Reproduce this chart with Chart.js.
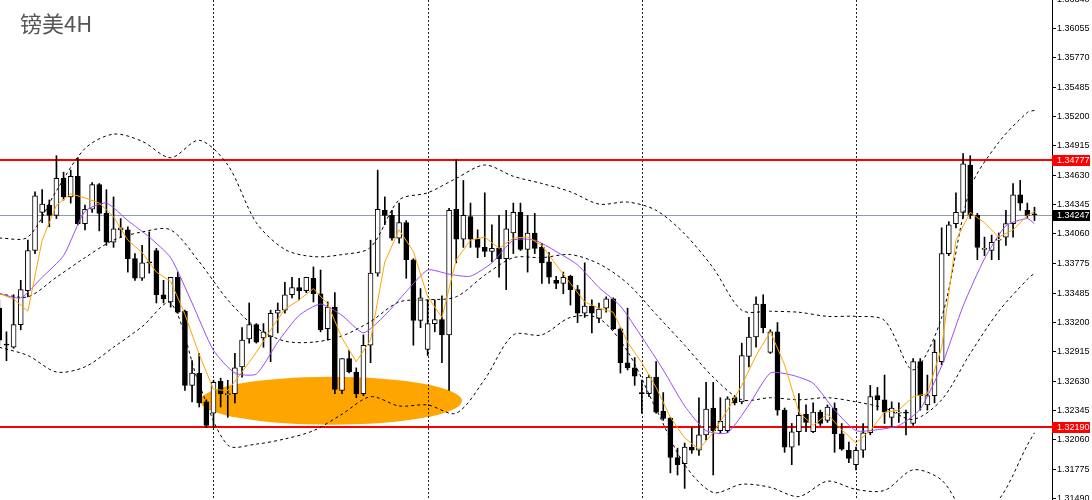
<!DOCTYPE html>
<html>
<head>
<meta charset="utf-8">
<script src="https://cdn.jsdelivr.net/npm/chart.js@4.4.0/dist/chart.umd.min.js"></script>
<style>
  html, body { margin: 0; padding: 0; background: #fff; overflow: hidden; }
  #wrap { position: relative; width: 1092px; height: 500px; }
  #title { position: absolute; left: 20px; top: 11px; font: 22px/22px "Noto Sans CJK SC", sans-serif; color: #555; }
</style>
</head>
<body>
<div id="wrap">
  <canvas id="chart" width="1092" height="500"></canvas>
  <div id="title">镑美4H</div>
</div>
<script>
// 4H candles, oldest (partly cut at the left edge) to newest
const candleOpen = [
  1.3334, 1.3299, 1.3296, 1.3318, 1.3351, 1.3390, 1.3427, 1.3434, 1.3424, 1.3460,
  1.3442, 1.3462, 1.3416, 1.3430, 1.3454, 1.3426, 1.3398, 1.3410, 1.3410, 1.3382,
  1.3363, 1.3379, 1.3390, 1.3347, 1.3340, 1.3364, 1.3331, 1.3259, 1.3271, 1.3243,
  1.3232, 1.3263, 1.3250, 1.3251, 1.3277, 1.3304, 1.3318, 1.3305, 1.3306, 1.3329,
  1.3332, 1.3347, 1.3354, 1.3351, 1.3363, 1.3348, 1.3314, 1.3335, 1.3254, 1.3285,
  1.3272, 1.3251, 1.3298, 1.3368, 1.3429, 1.3424, 1.3402, 1.3417, 1.3381, 1.3322,
  1.3294, 1.3319, 1.3323, 1.3308, 1.3430, 1.3401, 1.3423, 1.3401, 1.3393, 1.3389,
  1.3392, 1.3382, 1.3407, 1.3427, 1.3391, 1.3407, 1.3393, 1.3379, 1.3361, 1.3358,
  1.3365, 1.3352, 1.3329, 1.3336, 1.3324, 1.3334, 1.3343, 1.3314, 1.3281, 1.3276,
  1.3252, 1.3251, 1.3267, 1.3234, 1.3227, 1.3189, 1.3183, 1.3199, 1.3196, 1.3211,
  1.3237, 1.3215, 1.3215, 1.3247, 1.3243, 1.3287, 1.3306, 1.3338, 1.3291, 1.3311,
  1.3235, 1.3199, 1.3214, 1.3231, 1.3214, 1.3233, 1.3225, 1.3237, 1.3212, 1.3196,
  1.3182, 1.3196, 1.3213, 1.3249, 1.3245, 1.3228, 1.3232, 1.3233, 1.3222, 1.3282,
  1.3240, 1.3249, 1.3282, 1.3387, 1.3416, 1.3427, 1.3473, 1.3424, 1.3391, 1.3390,
  1.3400, 1.3403, 1.3416, 1.3444, 1.3429, 1.3425
];
const candleHigh = [
  1.3342, 1.3311, 1.3347, 1.3361, 1.3400, 1.3447, 1.3449, 1.3439, 1.3482, 1.3466,
  1.3468, 1.3480, 1.3434, 1.3456, 1.3455, 1.3449, 1.3442, 1.3421, 1.3413, 1.3387,
  1.3395, 1.3408, 1.3392, 1.3361, 1.3364, 1.3369, 1.3332, 1.3283, 1.3290, 1.3245,
  1.3264, 1.3266, 1.3264, 1.3290, 1.3315, 1.3339, 1.3319, 1.3319, 1.3332, 1.3339,
  1.3359, 1.3364, 1.3363, 1.3364, 1.3374, 1.3371, 1.3340, 1.3349, 1.3285, 1.3293,
  1.3276, 1.3308, 1.3400, 1.3468, 1.3442, 1.3429, 1.3436, 1.3419, 1.3382, 1.3353,
  1.3342, 1.3342, 1.3346, 1.3431, 1.3478, 1.3458, 1.3436, 1.3410, 1.3446, 1.3415,
  1.3424, 1.3429, 1.3436, 1.3436, 1.3424, 1.3426, 1.3397, 1.3388, 1.3365, 1.3369,
  1.3366, 1.3356, 1.3378, 1.3342, 1.3339, 1.3345, 1.3344, 1.3315, 1.3334, 1.3286,
  1.3264, 1.3269, 1.3282, 1.3252, 1.3228, 1.3198, 1.3203, 1.3218, 1.3247, 1.3262,
  1.3262, 1.3247, 1.3248, 1.3249, 1.3300, 1.3325, 1.3345, 1.3347, 1.3313, 1.3320,
  1.3237, 1.3222, 1.3251, 1.3240, 1.3242, 1.3235, 1.3240, 1.3242, 1.3222, 1.3204,
  1.3199, 1.3222, 1.3259, 1.3257, 1.3269, 1.3243, 1.3242, 1.3235, 1.3285, 1.3285,
  1.3269, 1.3303, 1.3412, 1.3418, 1.3446, 1.3484, 1.3482, 1.3426, 1.3403, 1.3405,
  1.3407, 1.3429, 1.3455, 1.3458, 1.3436, 1.3432
];
const candleLow = [
  1.3298, 1.3283, 1.3295, 1.3313, 1.3345, 1.3387, 1.3417, 1.3413, 1.3421, 1.3439,
  1.3436, 1.3415, 1.3410, 1.3427, 1.3409, 1.3395, 1.3393, 1.3403, 1.3369, 1.3361,
  1.3361, 1.3368, 1.3339, 1.3339, 1.3335, 1.3329, 1.3254, 1.3243, 1.3238, 1.3218,
  1.3218, 1.3238, 1.3228, 1.3242, 1.3267, 1.3300, 1.3300, 1.3296, 1.3282, 1.3310,
  1.3329, 1.3344, 1.3342, 1.3349, 1.3340, 1.3311, 1.3303, 1.3251, 1.3251, 1.3271,
  1.3247, 1.3249, 1.3281, 1.3365, 1.3415, 1.3400, 1.3397, 1.3363, 1.3298, 1.3315,
  1.3288, 1.3311, 1.3281, 1.3254, 1.3378, 1.3393, 1.3393, 1.3383, 1.3384, 1.3379,
  1.3364, 1.3352, 1.3387, 1.3390, 1.3369, 1.3387, 1.3358, 1.3358, 1.3353, 1.3348,
  1.3337, 1.3320, 1.3325, 1.3310, 1.3320, 1.3330, 1.3313, 1.3271, 1.3274, 1.3259,
  1.3232, 1.3248, 1.3232, 1.3225, 1.3174, 1.3172, 1.3159, 1.3193, 1.3191, 1.3206,
  1.3172, 1.3213, 1.3213, 1.3240, 1.3241, 1.3277, 1.3296, 1.3310, 1.3290, 1.3230,
  1.3194, 1.3182, 1.3201, 1.3214, 1.3213, 1.3220, 1.3223, 1.3194, 1.3196, 1.3184,
  1.3177, 1.3189, 1.3211, 1.3235, 1.3222, 1.3218, 1.3223, 1.3211, 1.3220, 1.3235,
  1.3235, 1.3242, 1.3279, 1.3385, 1.3412, 1.3421, 1.3421, 1.3381, 1.3385, 1.3381,
  1.3381, 1.3395, 1.3403, 1.3429, 1.3422, 1.3419
];
const candleClose = [
  1.3303, 1.3298, 1.3318, 1.3352, 1.3390, 1.3443, 1.3435, 1.3424, 1.3460, 1.3442,
  1.3462, 1.3416, 1.3430, 1.3454, 1.3426, 1.3398, 1.3411, 1.3412, 1.3382, 1.3363,
  1.3378, 1.3378, 1.3347, 1.3343, 1.3364, 1.3330, 1.3259, 1.3271, 1.3242, 1.3220,
  1.3262, 1.3251, 1.3251, 1.3276, 1.3303, 1.3318, 1.3301, 1.3311, 1.3329, 1.3332,
  1.3347, 1.3354, 1.3351, 1.3364, 1.3348, 1.3313, 1.3335, 1.3255, 1.3285, 1.3272,
  1.3251, 1.3298, 1.3368, 1.3430, 1.3424, 1.3402, 1.3417, 1.3381, 1.3322, 1.3344,
  1.3319, 1.3323, 1.3308, 1.3429, 1.3401, 1.3424, 1.3401, 1.3393, 1.3389, 1.3392,
  1.3382, 1.3411, 1.3427, 1.3391, 1.3407, 1.3392, 1.3378, 1.3364, 1.3358, 1.3364,
  1.3352, 1.3329, 1.3336, 1.3329, 1.3333, 1.3343, 1.3314, 1.3281, 1.3276, 1.3268,
  1.3251, 1.3267, 1.3233, 1.3227, 1.3189, 1.3182, 1.3199, 1.3196, 1.3211, 1.3236,
  1.3215, 1.3224, 1.3246, 1.3242, 1.3288, 1.3306, 1.3338, 1.3315, 1.3311, 1.3235,
  1.3199, 1.3214, 1.3230, 1.3223, 1.3233, 1.3222, 1.3238, 1.3212, 1.3197, 1.3188,
  1.3196, 1.3213, 1.3248, 1.3245, 1.3233, 1.3237, 1.3233, 1.3232, 1.3282, 1.3249,
  1.3249, 1.3291, 1.3387, 1.3415, 1.3427, 1.3474, 1.3424, 1.3393, 1.3392, 1.3398,
  1.3401, 1.3416, 1.3444, 1.3436, 1.3424, 1.34247
];

// fast MA (orange), read every second candle
const maFastAt = [0, 2, 4, 6, 8, 10, 12, 14, 16, 18, 20, 22, 24, 26, 28, 30, 32, 34, 36, 38,
  40, 42, 44, 46, 48, 50, 52, 54, 56, 58, 60, 62, 64, 66, 68, 70, 72, 74, 76, 78,
  80, 82, 84, 86, 88, 90, 92, 94, 96, 98, 100, 102, 104, 106, 108, 110, 112, 114, 116, 118,
  120, 122, 124, 126, 128, 130, 132, 134, 136, 138, 140, 142, 144, 145];
const maFast = [
  1.3348, 1.3343, 1.3331, 1.3400, 1.3434, 1.3445, 1.3441, 1.3436, 1.3423, 1.3400,
  1.3388, 1.3369, 1.3360, 1.3328, 1.3289, 1.3255, 1.3254, 1.3272, 1.3291, 1.3313,
  1.3333, 1.3342, 1.3353, 1.3338, 1.3305, 1.3282, 1.3303, 1.3379, 1.3410, 1.3389,
  1.3345, 1.3325, 1.3381, 1.3400, 1.3403, 1.3392, 1.3402, 1.3403, 1.3395, 1.3376,
  1.3358, 1.3340, 1.3334, 1.3330, 1.3301, 1.3281, 1.3257, 1.3228, 1.3208, 1.3197,
  1.3213, 1.3235, 1.3259, 1.3288, 1.3311, 1.3279, 1.3233, 1.3220, 1.3231, 1.3216,
  1.3203, 1.3215, 1.3233, 1.3235, 1.3248, 1.3251, 1.3296, 1.3400, 1.3427, 1.3417,
  1.3403, 1.3410, 1.3424, 1.3428
];

// slow MA (purple), read every third candle
const maSlowAt = [0, 3, 6, 9, 12, 15, 18, 21, 24, 27, 30, 33, 36, 39, 42, 45, 48, 51, 54, 57,
  60, 63, 66, 69, 72, 75, 78, 81, 84, 87, 90, 93, 96, 99, 102, 105, 108, 111, 114, 117,
  120, 123, 126, 129, 132, 135, 138, 141, 144, 145];
const maSlow = [
  1.3348, 1.3344, 1.3364, 1.3385, 1.3428, 1.3436, 1.3419, 1.3403, 1.3383, 1.3339,
  1.3293, 1.3271, 1.3270, 1.3301, 1.3327, 1.3338, 1.3327, 1.3310, 1.3327, 1.3350,
  1.3371, 1.3367, 1.3365, 1.3378, 1.3400, 1.3400, 1.3389, 1.3376, 1.3354, 1.3336,
  1.3306, 1.3274, 1.3239, 1.3215, 1.3213, 1.3240, 1.3271, 1.3269, 1.3261, 1.3235,
  1.3215, 1.3216, 1.3220, 1.3236, 1.3278, 1.3336, 1.3382, 1.3414, 1.3421, 1.3416
];

// Bollinger bands (dashed), read every fourth candle
const bandAt = [0, 4, 8, 12, 16, 20, 24, 28, 32, 36, 40, 44, 48, 52, 56, 60, 64, 68, 72, 76,
  80, 84, 88, 92, 96, 100, 104, 108, 112, 116, 120, 124, 128, 132, 136, 140, 144, 145];
const bandUpper = [
  1.3402, 1.3403, 1.3448, 1.3489, 1.3503, 1.3496, 1.3480, 1.3497, 1.3473, 1.3417,
  1.3391, 1.3384, 1.3386, 1.3393, 1.3439, 1.3446, 1.3460, 1.3473, 1.3462, 1.3455,
  1.3447, 1.3435, 1.3437, 1.3429, 1.3406, 1.3373, 1.3332, 1.3331, 1.3330, 1.3326,
  1.3326, 1.3322, 1.3274, 1.3325, 1.3450, 1.3495, 1.3524, 1.3526
];
const bandMiddle = [
  1.3348, 1.3345, 1.3364, 1.3383, 1.3400, 1.3408, 1.3410, 1.3379, 1.3342, 1.3315,
  1.3302, 1.3301, 1.3307, 1.3321, 1.3340, 1.3342, 1.3345, 1.3366, 1.3383, 1.3383,
  1.3386, 1.3377, 1.3358, 1.3328, 1.3298, 1.3267, 1.3245, 1.3247, 1.3245, 1.3247,
  1.3243, 1.3237, 1.3226, 1.3245, 1.3290, 1.3331, 1.3362, 1.3368
];
const bandLower = [
  1.3296, 1.3288, 1.3272, 1.3277, 1.3296, 1.3316, 1.3339, 1.3260, 1.3201, 1.3202,
  1.3207, 1.3215, 1.3231, 1.3248, 1.3239, 1.3240, 1.3232, 1.3265, 1.3308, 1.3308,
  1.3325, 1.3324, 1.3292, 1.3236, 1.3182, 1.3155, 1.3163, 1.3160, 1.3151, 1.3166,
  1.3158, 1.3157, 1.3177, 1.3167, 1.3130, 1.3148, 1.3201, 1.3213
];

const yTickLabels = ['1.31490', '1.31775', '1.32060', '1.32345', '1.32630', '1.32915', '1.33200',
  '1.33485', '1.33775', '1.34060', '1.34345', '1.34630', '1.34915', '1.35200', '1.35485',
  '1.35770', '1.36055', '1.36340'];

const levelLines = [1.34777, 1.32190];   // red support / resistance
const lastPrice = 1.34247;
const weekStarts = [30, 60, 90, 120];    // period separators (candle index)
// highlighted zone (orange ellipse), in candle index / price units
const zone = { index: 46.46, price: 1.3244, halfBars: 18.35, halfPrice: 0.00233 };

const pts = (at, vals) => at.map((i, k) => ({ x: i, y: vals[k] }));
const wicks = candleLow.map((l, i) => ({ x: i, y: [l, candleHigh[i]] }));
const bodies = candleOpen.map((o, i) => ({ x: i, y: [o, candleClose[i]] }));
const bodyFill = candleOpen.map((o, i) => candleClose[i] > o ? '#ffffff' : '#000000');

const overlay = {
  id: 'overlay',
  beforeDatasetsDraw(chart) {
    const { ctx, chartArea: ca, scales: { x, y } } = chart;
    ctx.save();

    // orange zone
    const cx = x.getPixelForValue(zone.index);
    const cy = y.getPixelForValue(zone.price);
    const rx = x.getPixelForValue(zone.index + zone.halfBars) - cx;
    const ry = y.getPixelForValue(zone.price - zone.halfPrice) - cy;
    ctx.fillStyle = '#ffa500';
    ctx.beginPath();
    ctx.ellipse(cx, cy, rx, ry, 0, 0, Math.PI * 2);
    ctx.fill();

    // week separators
    ctx.strokeStyle = '#222';
    ctx.lineWidth = 1;
    ctx.setLineDash([2, 2]);
    weekStarts.forEach((i) => {
      const px = Math.round(x.getPixelForValue(i)) + 0.5;
      ctx.beginPath();
      ctx.moveTo(px, ca.top);
      ctx.lineTo(px, ca.bottom);
      ctx.stroke();
    });
    ctx.setLineDash([]);

    // last price line
    const lp = Math.round(y.getPixelForValue(lastPrice)) + 0.5;
    ctx.strokeStyle = '#8d9db0';
    ctx.beginPath();
    ctx.moveTo(ca.left, lp);
    ctx.lineTo(ca.right, lp);
    ctx.stroke();

    // red levels
    ctx.strokeStyle = '#ff0000';
    ctx.lineWidth = 2;
    levelLines.forEach((v) => {
      const py = Math.round(y.getPixelForValue(v));
      ctx.beginPath();
      ctx.moveTo(ca.left, py);
      ctx.lineTo(ca.right, py);
      ctx.stroke();
    });

    // price tags on the axis
    ctx.font = '9px "Liberation Sans"';
    ctx.textBaseline = 'middle';
    const tag = (v, bg) => {
      const py = Math.round(y.getPixelForValue(v));
      ctx.fillStyle = bg;
      ctx.fillRect(y.left, py - 5, 38, 11);
      ctx.fillStyle = '#ffffff';
      ctx.fillText(v.toFixed(5), y.left + 5, py + 0.5);
    };
    levelLines.forEach((v) => tag(v, '#ff0000'));
    tag(lastPrice, '#000000');

    ctx.restore();
  }
};

new Chart(document.getElementById('chart'), {
  type: 'bar',
  data: {
    datasets: [
      { type: 'line', data: pts(maFastAt, maFast), borderColor: '#ffa500', borderWidth: 1, pointRadius: 0, order: 0 },
      { type: 'line', data: pts(maSlowAt, maSlow), borderColor: '#9a4cf0', borderWidth: 1, pointRadius: 0, tension: 0.2, order: 0 },
      { type: 'line', data: pts(bandAt, bandUpper), borderColor: '#000', borderWidth: 1, borderDash: [3, 3], pointRadius: 0, tension: 0.3, order: 0 },
      { type: 'line', data: pts(bandAt, bandMiddle), borderColor: '#000', borderWidth: 1, borderDash: [3, 3], pointRadius: 0, tension: 0.3, order: 0 },
      { type: 'line', data: pts(bandAt, bandLower), borderColor: '#000', borderWidth: 1, borderDash: [3, 3], pointRadius: 0, tension: 0.3, order: 0 },
      { data: bodies, barThickness: 5, grouped: false, backgroundColor: bodyFill, borderColor: '#000', borderWidth: 1, borderSkipped: false, minBarLength: 1, order: 1 },
      { data: wicks, barThickness: 1, grouped: false, backgroundColor: '#000', order: 2 }
    ]
  },
  options: {
    responsive: false,
    animation: false,
    events: [],
    layout: { padding: 0 },
    plugins: { legend: { display: false }, tooltip: { enabled: false } },
    scales: {
      x: { type: 'linear', display: false, offset: false, min: 0.095, max: 147.455 },
      y: {
        position: 'right',
        min: 1.31477,
        max: 1.36332,
        beginAtZero: false,
        afterBuildTicks: (s) => { s.ticks = yTickLabels.map((t) => ({ value: parseFloat(t) })); },
        afterFit: (s) => { s.width = 40; s.paddingTop = 0; s.paddingBottom = 0; },
        ticks: {
          autoSkip: false,
          padding: 1,
          color: '#000',
          font: { family: 'Liberation Sans', size: 9 },
          callback: (v, i) => yTickLabels[i]
        },
        grid: { drawOnChartArea: false, drawTicks: true, tickLength: 4, color: '#000' },
        border: { display: true, color: '#000', width: 1 }
      }
    }
  },
  plugins: [overlay]
});
</script>
</body>
</html>
